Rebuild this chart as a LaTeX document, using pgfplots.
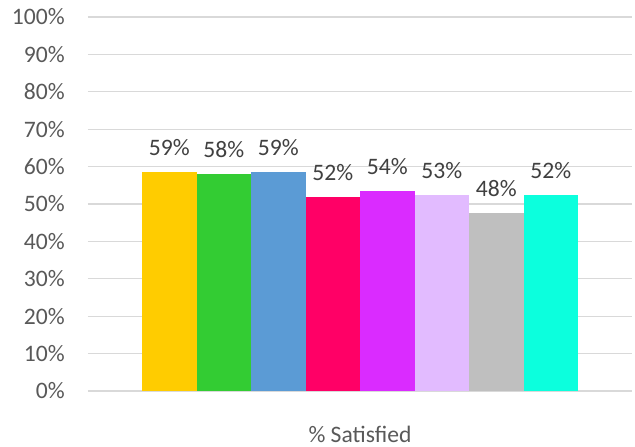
\documentclass[border=0pt]{standalone}
\usepackage{fontspec}
\setmainfont{Carlito}
\usepackage{pgfplots}
\pgfplotsset{compat=1.18}
\definecolor{c1}{HTML}{FFCC00}
\definecolor{c2}{HTML}{33CC33}
\definecolor{c3}{HTML}{5B9BD5}
\definecolor{c4}{HTML}{FF0066}
\definecolor{c5}{HTML}{DA2BFF}
\definecolor{c6}{HTML}{E2BBFF}
\definecolor{c7}{HTML}{BFBFBF}
\definecolor{c8}{HTML}{0CFFDD}
\definecolor{gridgray}{HTML}{D9D9D9}
\definecolor{ticktext}{HTML}{595959}
\definecolor{labeltext}{HTML}{404040}
\begin{document}
\fontsize{11.8}{14}\selectfont
\begin{tikzpicture}
\path[use as bounding box] (0,0) rectangle (317.5pt,223pt);
\begin{axis}[
  at={(44pt,27.5pt)}, anchor=south west,
  width=272pt, height=187pt, scale only axis,
  xmin=0, xmax=1, ymin=0, ymax=100,
  axis line style={draw=none},
  ymajorgrids, grid style={color=gridgray, line width=0.6pt},
  ytick={0,10,...,100},
  yticklabels={0\%,10\%,20\%,30\%,40\%,50\%,60\%,70\%,80\%,90\%,100\%},
  xtick={0.5}, xticklabels={\% Satisfied},
  tick style={draw=none},
  tick label style={font=\fontsize{11.8}{14}\selectfont, color=ticktext},
  y tick label style={xshift=-7.5pt},
  x tick label style={yshift=-9pt},
  ybar=0pt, bar width=27.25pt,
  nodes near coords, point meta=explicit symbolic,
  nodes near coords style={font=\fontsize{11.8}{14}\selectfont, color=labeltext, yshift=4pt},
]
\addplot[fill=c1, draw=none] coordinates {(0.5,58.6) [59\%]};
\addplot[fill=c2, draw=none] coordinates {(0.5,58.1) [58\%]};
\addplot[fill=c3, draw=none] coordinates {(0.5,58.6) [59\%]};
\addplot[fill=c4, draw=none] coordinates {(0.5,52.0) [52\%]};
\addplot[fill=c5, draw=none] coordinates {(0.5,53.6) [54\%]};
\addplot[fill=c6, draw=none] coordinates {(0.5,52.5) [53\%]};
\addplot[fill=c7, draw=none] coordinates {(0.5,47.7) [48\%]};
\addplot[fill=c8, draw=none] coordinates {(0.5,52.4) [52\%]};
\end{axis}
\end{tikzpicture}
\end{document}
